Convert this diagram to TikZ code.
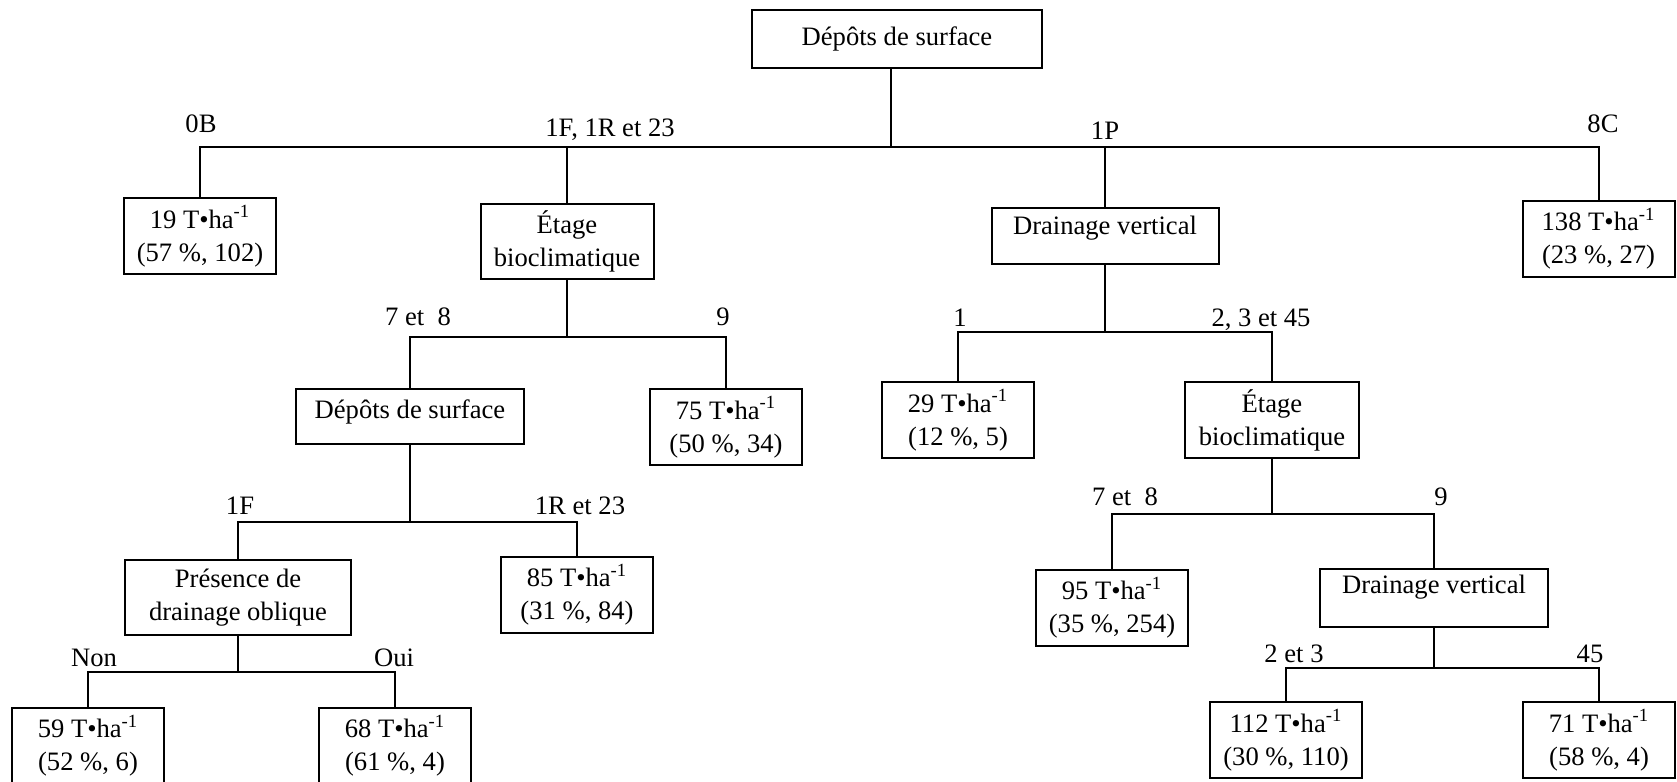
\documentclass[tikz,border=0pt]{standalone}
\usepackage{fontspec}
\setmainfont{Liberation Serif}

\newcommand{\yieldval}[2]{#1 T•ha\textsuperscript{-1}\\(#2)}

\begin{document}
\begin{tikzpicture}[x=0.5pt,y=-0.5pt,line width=1pt,
    every node/.style={font=\fontsize{13.3}{16.5}\selectfont,align=center},
    tbox/.style={draw,minimum width=76pt,minimum height=38pt,inner sep=2pt},
    qbox/.style={tbox,text depth=#1},
    brlabel/.style={anchor=base,inner sep=0pt}]
    \useasboundingbox (0,0) rectangle (1677,782);

    % boxes
    \node[tbox,minimum width=145pt,minimum height=29pt] (root) at (897,39) {Dépôts de surface};
    \node[tbox] (v19) at (200,236) {\yieldval{19}{57~\%, 102}};
    \node[tbox,minimum width=86.5pt,minimum height=37.5pt] (etage1) at (567,241.5) {Étage\\bioclimatique};
    \node[qbox=11pt,minimum width=113.5pt,minimum height=28pt] (drain1) at (1105,236) {Drainage vertical};
    \node[tbox] (v138) at (1598.5,238.5) {\yieldval{138}{23~\%, 27}};

    \node[qbox=7pt,minimum width=114pt,minimum height=27.5pt] (depot2) at (410,416.5) {Dépôts de surface};
    \node[tbox] (v75) at (726,427) {\yieldval{75}{50~\%, 34}};
    \node[tbox] (v29) at (958,420) {\yieldval{29}{12~\%, 5}};
    \node[tbox,minimum width=87pt] (etage2) at (1272,420) {Étage\\bioclimatique};

    \node[tbox,minimum width=113pt,minimum height=37.5pt] (oblique) at (238,597.5) {Présence de\\drainage oblique};
    \node[tbox] (v85) at (577,594.5) {\yieldval{85}{31~\%, 84}};
    \node[tbox] (v95) at (1112,607.5) {\yieldval{95}{35~\%, 254}};
    \node[qbox=13pt,minimum width=114pt,minimum height=29pt] (drain2) at (1434,597.7) {Drainage vertical};

    \node[tbox] (v59) at (88,745.5) {\yieldval{59}{52~\%, 6}};
    \node[tbox] (v68) at (395,745.5) {\yieldval{68}{61~\%, 4}};
    \node[tbox] (v112) at (1286,740) {\yieldval{112}{30~\%, 110}};
    \node[tbox] (v71) at (1599,740) {\yieldval{71}{58~\%, 4}};

    % junctions
    \coordinate (j0) at (891,147);
    \coordinate (j1) at (567,337);
    \coordinate (j2) at (1105,332);
    \coordinate (j3) at (410,522);
    \coordinate (j4) at (1272,514);
    \coordinate (j5) at (238,672);
    \coordinate (j6) at (1434,668);

    \draw (j0 |- root.south) -- (j0);
    \draw (j0) -| (v19);
    \draw (j0) -| (etage1);
    \draw (j0) -| (drain1);
    \draw (j0) -| (v138);

    \draw (etage1) -- (j1);
    \draw (j1) -| (depot2);
    \draw (j1) -| (v75);

    \draw (drain1) -- (j2);
    \draw (j2) -| (v29);
    \draw (j2) -| (etage2);

    \draw (depot2) -- (j3);
    \draw (j3) -| (oblique);
    \draw (j3) -| (v85);

    \draw (etage2) -- (j4);
    \draw (j4) -| (v95);
    \draw (j4) -| (drain2);

    \draw (oblique) -- (j5);
    \draw (j5) -| (v59);
    \draw (j5) -| (v68);

    \draw (drain2) -- (j6);
    \draw (j6) -| (v112);
    \draw (j6) -| (v71);

    % branch labels
    \node[brlabel] (l0B) at (201,132) {0B};
    \node[brlabel] (l1F) at (610,136) {1F, 1R et 23};
    \node[brlabel] (l1P) at (1105,139) {1P};
    \node[brlabel] (l8C) at (1603,132) {8C};
    \node[brlabel] (l78a) at (418,325) {7 et~ 8};
    \node[brlabel] (l9a) at (723,325) {9};
    \node[brlabel] (l1) at (960,326) {1};
    \node[brlabel] (l245) at (1261,326) {2, 3 et 45};
    \node[brlabel] (l1Fb) at (240,514) {1F};
    \node[brlabel] (l1R) at (580,514) {1R et 23};
    \node[brlabel] (l78b) at (1125,505) {7 et~ 8};
    \node[brlabel] (l9b) at (1441,505) {9};
    \node[brlabel] (lnon) at (94,666) {Non};
    \node[brlabel] (loui) at (394,666) {Oui};
    \node[brlabel] (l23) at (1294,662) {2 et 3};
    \node[brlabel] (l45) at (1590,662) {45};
\end{tikzpicture}
\end{document}
